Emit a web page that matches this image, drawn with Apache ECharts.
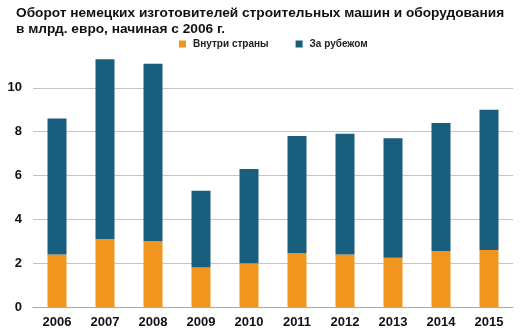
<!DOCTYPE html>
<html>
<head>
<meta charset="utf-8">
<script src="https://cdn.jsdelivr.net/npm/echarts@6/dist/echarts.min.js"></script>
<style>
html,body{margin:0;padding:0;background:#fff;}
#chart{width:523px;height:334px;}
</style>
</head>
<body>
<div id="chart"></div>
<script>
// Turnover of German construction machinery makers, bn EUR
const years = ['2006','2007','2008','2009','2010','2011','2012','2013','2014','2015'];
const domestic = [2.4, 3.1, 3.0, 1.8, 2.0, 2.45, 2.4, 2.25, 2.55, 2.6];
const abroad = [6.2, 8.2, 8.1, 3.5, 4.3, 5.35, 5.5, 5.45, 5.85, 6.4];
const yTicks = [0, 2, 4, 6, 8, 10];

const chart = echarts.init(document.getElementById('chart'));
chart.setOption({
  animation: false,
  backgroundColor: '#fff',
  title: {
    text: 'Оборот немецких изготовителей строительных машин и оборудования\nв млрд. евро, начиная с 2006 г.',
    left: 16, top: 5, padding: 0,
    textStyle: { fontFamily: 'Liberation Sans, Arial', fontSize: 13.7, fontWeight: 'bold', color: '#111', lineHeight: 16 }
  },
  legend: {
    top: 39, left: 179, padding: 0,
    itemWidth: 7, itemHeight: 7, itemGap: 27,
    icon: 'rect',
    textStyle: { fontFamily: 'Liberation Sans, Arial', fontSize: 10, fontWeight: 'bold', color: '#222', padding: [0, 0, 0, 2] },
    data: ['Внутри страны', 'За рубежом']
  },
  grid: { left: 33, right: 10, top: 44, bottom: 27 },
  xAxis: {
    type: 'category',
    data: years,
    axisTick: { show: false },
    axisLine: { lineStyle: { color: '#aaa' } },
    axisLabel: { fontFamily: 'Liberation Sans, Arial', fontSize: 13, fontWeight: 'bold', color: '#111', margin: 9 }
  },
  yAxis: {
    type: 'value',
    min: 0, max: 12, interval: 2,
    axisLabel: {
      fontFamily: 'Liberation Sans, Arial', fontSize: 13, fontWeight: 'bold', color: '#111', margin: 11,
      formatter: v => yTicks.includes(v) ? String(v) : ''
    },
    splitLine: { showMaxLine: false, lineStyle: { color: '#c4c4c4' } },
    axisLine: { show: false },
    axisTick: { show: false }
  },
  series: [
    { name: 'Внутри страны', type: 'bar', stack: 't', data: domestic, barWidth: 19, itemStyle: { color: '#F0961E' } },
    { name: 'За рубежом', type: 'bar', stack: 't', data: abroad, barWidth: 19, itemStyle: { color: '#1A5E7E' } }
  ]
});
</script>
</body>
</html>
